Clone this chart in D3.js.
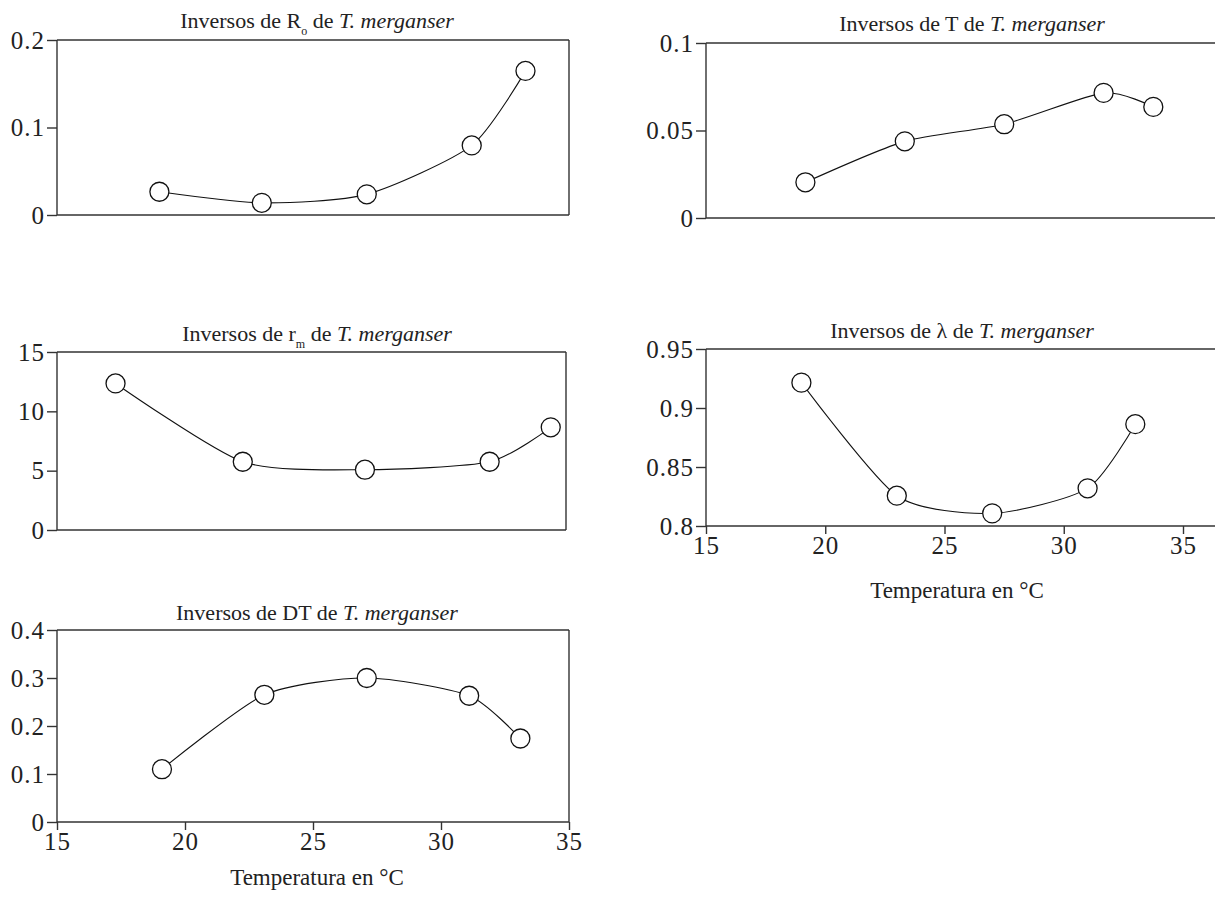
<!DOCTYPE html>
<html>
<head>
<meta charset="utf-8">
<script src="https://cdn.jsdelivr.net/npm/d3@7"></script>
<style>
  body { margin: 0; background: #fff; }
  svg text { font-family: "Liberation Serif", "Times New Roman", serif; fill: #222; }
</style>
</head>
<body>
<div id="app"></div>
<script>
// temperatures (°C) and inverse values
const tempRo = [19, 23, 27.1, 31.2, 33.3]
const invRo = [0.0266, 0.0139, 0.0236, 0.0795, 0.1647]

const tempT = [19, 23, 27, 31, 33]
const invT = [0.0204, 0.0438, 0.0536, 0.0715, 0.0635]

const tempRm = [17.3, 22.3, 27.1, 32.0, 34.4]
const invRm = [12.35, 5.75, 5.08, 5.75, 8.65]

const tempLambda = [19, 23, 27, 31, 33]
const invLambda = [0.9215, 0.8257, 0.8107, 0.8319, 0.8863]

const tempDT = [19.1, 23.1, 27.1, 31.1, 33.1]
const invDT = [0.11, 0.265, 0.3, 0.263, 0.174]

const xTicks = [15, 20, 25, 30, 35]
const xLabel = "Temperatura en °C"

const width = 1215
const height = 897

const svg = d3.select('#app')
.append('svg')
.attr('width', width)
.attr('height', height)

// one panel = box position, domains, ticks, title parts
const panels = [
  {x: tempRo, y: invRo, left: 57, right: 569, xEnd: 569, top: 40, bottom: 215, yDom: [0, 0.2], yTicks: [0, 0.1, 0.2],
   fmt: d => d === 0 ? "0" : d3.format(".1f")(d), sym: "R", sub: "o", cx: 317, ty: 28, closed: true, xAxis: false},
  {x: tempT, y: invT, left: 706, right: 1203, xEnd: 1230, top: 43, bottom: 218, yDom: [0, 0.1], yTicks: [0, 0.05, 0.1],
   fmt: d => d === 0 ? "0" : String(d), sym: "T", sub: null, cx: 972, ty: 31, closed: false, xAxis: false},
  {x: tempRm, y: invRm, left: 57, right: 566, xEnd: 566, top: 352, bottom: 530, yDom: [0, 15], yTicks: [0, 5, 10, 15],
   fmt: d => String(d), sym: "r", sub: "m", cx: 317, ty: 341, closed: true, xAxis: false},
  {x: tempLambda, y: invLambda, left: 706, right: 1183, xEnd: 1230, top: 349, bottom: 526, yDom: [0.8, 0.95], yTicks: [0.8, 0.85, 0.9, 0.95],
   fmt: d => String(d), sym: "λ", sub: null, cx: 962, ty: 338, closed: false, xAxis: true, labelX: 957, labelY: 598},
  {x: tempDT, y: invDT, left: 57, right: 569, xEnd: 569, top: 630, bottom: 822, yDom: [0, 0.4], yTicks: [0, 0.1, 0.2, 0.3, 0.4],
   fmt: d => d === 0 ? "0" : d3.format(".1f")(d), sym: "DT", sub: null, cx: 317, ty: 620, closed: true, xAxis: true, labelX: 317, labelY: 885}
]

panels.forEach(p => {
  const g = svg.append('g')

  const scaleX = d3.scaleLinear()
  .domain([15, 35])
  .range([p.left, p.right])

  const scaleY = d3.scaleLinear()
  .domain(p.yDom)
  .range([p.bottom, p.top])

  // frame lines
  const frame = g.append('g').attr('stroke', '#333').attr('stroke-width', 1.4)
  frame.append('line').attr('x1', p.left).attr('x2', p.xEnd).attr('y1', p.top).attr('y2', p.top)
  if (p.closed) {
    frame.append('line').attr('x1', p.xEnd).attr('x2', p.xEnd).attr('y1', p.top).attr('y2', p.bottom)
  }
  if (!p.xAxis) {
    frame.append('line').attr('x1', p.left).attr('x2', p.xEnd).attr('y1', p.bottom).attr('y2', p.bottom)
  }

  const yAxis = g.append('g')
  .attr('transform', `translate(${p.left},0)`)
  .call(d3.axisLeft(scaleY).tickValues(p.yTicks).tickFormat(p.fmt).tickSize(10).tickPadding(2))
  yAxis.selectAll('path, line').attr('stroke', '#333').attr('stroke-width', 1.4)
  yAxis.selectAll('text').attr('font-size', 25).attr('letter-spacing', 1).attr('fill', '#222')
  yAxis.select('.domain').attr('d', `M0,${p.bottom}V${p.top}`)

  if (p.xAxis) {
    const xAxis = g.append('g')
    .attr('transform', `translate(0,${p.bottom})`)
    .call(d3.axisBottom(scaleX).tickValues(xTicks).tickSize(8).tickPadding(2))
    xAxis.select('.domain').attr('d', `M${p.left},0H${p.xEnd}`)
    xAxis.selectAll('path, line').attr('stroke', '#333').attr('stroke-width', 1.4)
    xAxis.selectAll('text').attr('font-size', 25).attr('letter-spacing', 1).attr('fill', '#222')

    g.append('text')
    .attr('x', p.labelX)
    .attr('y', p.labelY)
    .attr('text-anchor', 'middle')
    .attr('font-size', 23)
    .text(xLabel)
  }

  // title
  const title = g.append('text')
  .attr('x', p.cx)
  .attr('y', p.ty)
  .attr('text-anchor', 'middle')
  .attr('font-size', 22)
  title.append('tspan').text(`Inversos de ${p.sym}`)
  if (p.sub) {
    title.append('tspan').attr('font-size', 12).attr('dy', 7).text(p.sub)
    title.append('tspan').attr('dy', -7).text(' de ')
  } else {
    title.append('tspan').text(' de ')
  }
  title.append('tspan').attr('font-style', 'italic').text('T. merganser')

  const pts = p.x.map((t, i) => [t, p.y[i]])

  g.append('path')
  .datum(pts)
  .attr('fill', 'none')
  .attr('stroke', '#111')
  .attr('stroke-width', 1.1)
  .attr('d', d3.line()
    .x(d => scaleX(d[0]))
    .y(d => scaleY(d[1]))
    .curve(d3.curveCardinal.tension(0.3)))

  g.selectAll('circle')
  .data(pts)
  .join('circle')
  .attr('cx', d => scaleX(d[0]))
  .attr('cy', d => scaleY(d[1]))
  .attr('r', 9.5)
  .attr('fill', '#fff')
  .attr('stroke', '#111')
  .attr('stroke-width', 1.3)
})
</script>
</body>
</html>
